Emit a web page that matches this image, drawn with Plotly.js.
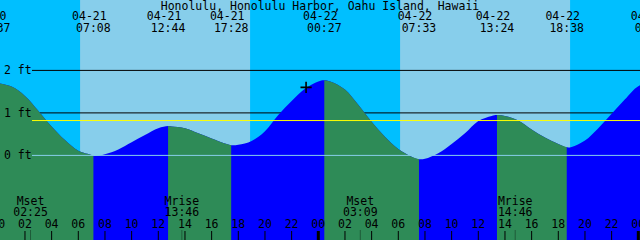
<!DOCTYPE html>
<html><head><meta charset="utf-8">
<script src="https://cdn.plot.ly/plotly-3.0.1.min.js"></script>
<style>html,body{margin:0;padding:0;background:#00BFFF;overflow:hidden}#chart{width:640px;height:240px}</style>
</head><body><div id="chart"></div>
<script>
// ---------- data ----------
const chartTitle = "Honolulu, Honolulu Harbor, Oahu Island, Hawaii";
const baseDay = 21; // hours are counted from 04-21 00:00
// tide height (ft) read at every full hour from 04-21 00:00 to 04-23 00:00
const hourlyHeights = [1.70, 1.62, 1.40, 1.05, 0.68, 0.36, 0.11, 0.01, 0.03, 0.14,
  0.31, 0.48, 0.64, 0.68, 0.64, 0.52, 0.40, 0.28, 0.25, 0.34,
  0.57, 0.95, 1.28, 1.57, 1.74, 1.73, 1.55, 1.19, 0.79, 0.44,
  0.15, -0.03, -0.08, 0.05, 0.27, 0.52, 0.81, 0.93, 0.93, 0.82,
  0.61, 0.42, 0.27, 0.20, 0.35, 0.64, 0.98, 1.32, 1.63];
// high / low tide events
const tideTimes = ["04-20 23:37", "04-21 07:08", "04-21 12:44", "04-21 17:28", "04-22 00:27",
  "04-22 07:33", "04-22 13:24", "04-22 18:38", "04-23 01:02"];
const tideHeights = [1.71, -0.01, 0.69, 0.24, 1.77, -0.09, 0.95, 0.19, 1.72];
const tideTypes = ["H", "L", "H", "L", "H", "L", "H", "L", "H"];
// sun and moon
const sunriseTimes = ["04-21 06:08", "04-22 06:08"];
const sunsetTimes = ["04-21 18:53", "04-22 18:53"];
const moonTimes = ["04-21 02:25", "04-21 13:46", "04-22 03:09", "04-22 14:46"];
const moonEvents = ["Mset", "Mrise", "Mset", "Mrise"];
// hour axis
const hourTickTimes = ["04-21 00:00", "04-21 02:00", "04-21 04:00", "04-21 06:00", "04-21 08:00", "04-21 10:00",
  "04-21 12:00", "04-21 14:00", "04-21 16:00", "04-21 18:00", "04-21 20:00", "04-21 22:00",
  "04-22 00:00", "04-22 02:00", "04-22 04:00", "04-22 06:00", "04-22 08:00", "04-22 10:00",
  "04-22 12:00", "04-22 14:00", "04-22 16:00", "04-22 18:00", "04-22 20:00", "04-22 22:00", "04-23 00:00"];
const hourTickLabels = ["00", "02", "04", "06", "08", "10", "12", "14", "16", "18", "20", "22",
  "00", "02", "04", "06", "08", "10", "12", "14", "16", "18", "20", "22", "00"];
// height levels
const levelValues = [2, 1, 0];
const levelLabels = ["2 ft", "1 ft", "0 ft"];
const meanLevel = 0.82;
// current-time mark
const markTime = "04-21 23:05";
const markHeight = 1.60;
// visible window
const viewStart = "04-21 00:07.65";
const viewEnd = "04-23 00:07.65";

// ---------- styling ----------
const NIGHT = "#00BFFF", DAY = "#87CEEB", FALL = "#2E8B57", RISE = "#0000FF";
const FONT = {family: "DejaVu Sans Mono", size: 11.5, color: "#000000"};
const DATE_NUDGE = -0.3; // date labels sit a few pixels left of their time labels

function toHours(s) {
  const [md, hm] = s.split(" ");
  const day = +md.split("-")[1];
  const [hh, mm] = hm.split(":").map(Number);
  return (day - baseDay) * 24 + hh + mm / 60;
}

const xRange = [toHours(viewStart), toHours(viewEnd)];

// curve points: hourly readings + extremes
const hourlyPts = hourlyHeights.map((v, i) => ({x: i, y: v}));
const extPts = tideTimes.map((t, i) => ({x: toHours(t), y: tideHeights[i], type: tideTypes[i]}));
const allPts = hourlyPts.concat(extPts).sort((a, b) => a.x - b.x);

const traces = [];
const BASE = -3;
function addFill(pts, color) {
  const xs = pts.map(p => p.x), ys = pts.map(p => p.y);
  traces.push({x: [xs[0], xs[xs.length - 1]], y: [BASE, BASE], mode: "lines",
    line: {width: 0}, hoverinfo: "skip", showlegend: false});
  traces.push({x: xs, y: ys, mode: "lines", fill: "tonexty", fillcolor: color,
    line: {width: 0, shape: "spline", smoothing: 1, color: color}, hoverinfo: "skip", showlegend: false});
}
// whole curve in rising colour, then falling stretches on top
addFill(allPts, RISE);
for (let k = 0; k < extPts.length - 1; k++) {
  if (extPts[k].type !== "H") continue;
  const a = extPts[k].x, b = extPts[k + 1].x;
  const seg = allPts.filter(p => p.x >= a - 1e-9 && p.x <= b + 1e-9);
  addFill(seg, FALL);
}

// current-time mark
traces.push({x: [toHours(markTime)], y: [markHeight], mode: "markers",
  marker: {symbol: "cross-thin", size: 8, color: "#000", line: {color: "#000", width: 1.6}},
  hoverinfo: "skip", showlegend: false});

// text rows (y2 is a pixel-row axis)
function textTrace(xs, ys, texts) {
  return {x: xs, y: ys, text: texts, mode: "text", yaxis: "y2", textposition: "middle center",
    textfont: FONT, hoverinfo: "skip", showlegend: false, cliponaxis: true};
}
const tideX = tideTimes.map(toHours);
traces.push(textTrace(tideX.map(x => x + DATE_NUDGE), tideTimes.map(() => 17), tideTimes.map(t => t.split(" ")[0])));
traces.push(textTrace(tideX, tideTimes.map(() => 29.2), tideTimes.map(t => t.split(" ")[1])));
const moonX = moonTimes.map(toHours);
traces.push(textTrace(moonX, moonTimes.map(() => 202.2), moonEvents));
traces.push(textTrace(moonX, moonTimes.map(() => 213.3), moonTimes.map(t => t.split(" ")[1])));
const tickX = hourTickTimes.map(toHours);
traces.push(textTrace(tickX, tickX.map(() => 225.5), hourTickLabels));

// shapes
const shapes = [];
sunriseTimes.forEach((t, i) => {
  shapes.push({type: "rect", xref: "x", yref: "paper", x0: toHours(t), x1: toHours(sunsetTimes[i]),
    y0: 0, y1: 1, fillcolor: DAY, line: {width: 0}, layer: "below"});
});
levelValues.forEach(v => {
  if (v === 0) return;
  shapes.push({type: "line", xref: "paper", yref: "y", x0: 0.05, x1: 1, y0: v, y1: v,
    line: {color: "#000", width: 1}, layer: "below"});
});
shapes.push({type: "line", xref: "paper", yref: "y", x0: 0.05, x1: 1, y0: 0, y1: 0,
  line: {color: DAY, width: 1}, layer: "above"});
shapes.push({type: "line", xref: "paper", yref: "y", x0: 0.05, x1: 1, y0: meanLevel, y1: meanLevel,
  line: {color: "#FFFF00", width: 1}, layer: "above"});
tickX.forEach((x, i) => {
  shapes.push({type: "line", xref: "x", yref: "paper", x0: x, x1: x, y0: 0, y1: 9 / 240,
    line: {color: "#000", width: hourTickLabels[i] === "00" ? 3 : 1}, layer: "above"});
});
moonX.forEach(x => {
  shapes.push({type: "line", xref: "x", yref: "paper", x0: x, x1: x, y0: 0, y1: 10 / 240,
    line: {color: "rgba(0,0,0,0.35)", width: 1}, layer: "above"});
});

const annotations = levelValues.map((v, i) => ({
  text: levelLabels[i], xref: "paper", yref: "y", x: 2 / 640, y: v, xanchor: "left", yanchor: "middle",
  showarrow: false, font: FONT
}));

const layout = {
  width: 640, height: 240,
  margin: {l: 0, r: 0, t: 0, b: 0, pad: 0},
  paper_bgcolor: NIGHT, plot_bgcolor: NIGHT,
  showlegend: false,
  title: {text: chartTitle, x: 0.5, xanchor: "center", xref: "paper", y: 1 - 5.5 / 240, yanchor: "middle",
    yref: "container", font: FONT},
  xaxis: {range: xRange, visible: false, fixedrange: true},
  yaxis: {range: [-1.9906, 3.6565], visible: false, fixedrange: true},
  yaxis2: {range: [240, 0], overlaying: "y", visible: false, fixedrange: true},
  shapes: shapes,
  annotations: annotations
};

Plotly.newPlot("chart", traces, layout, {staticPlot: true, displayModeBar: false});
</script>
</body></html>
